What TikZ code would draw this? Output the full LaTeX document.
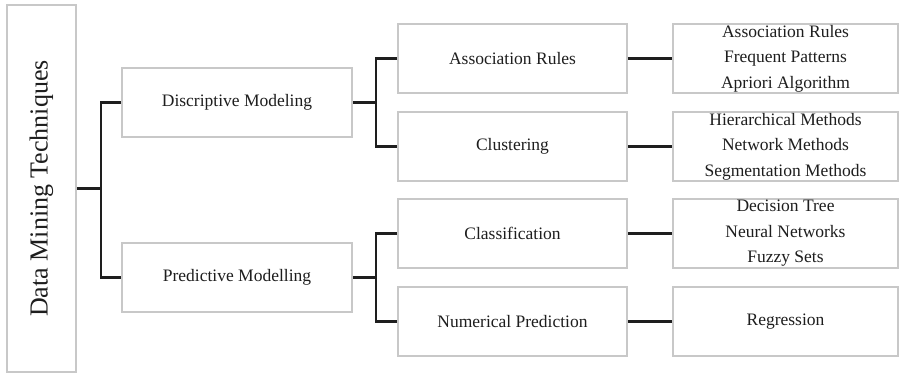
\documentclass[tikz,border=0pt]{standalone}
\usepackage{fontspec}
\setmainfont{Liberation Serif}
\usetikzlibrary{calc}
\definecolor{boxgray}{RGB}{200,200,200}
\definecolor{ink}{RGB}{30,30,30}
\begin{document}
\begin{tikzpicture}[x=1pt,y=-1pt,
  box/.style={draw=boxgray,line width=1.6pt,fill=white,inner sep=0pt,
    minimum height=69pt,text=ink,align=center,
    font=\fontsize{17.5}{25.5}\selectfont},
  lbox/.style={box,minimum width=230pt},
  mbox/.style={box,minimum width=229pt},
  rbox/.style={box,minimum width=225pt},
  conn/.style={draw=ink,line width=2.2pt}]
\useasboundingbox (0,0) rectangle (902,375);
\node[box,minimum width=69pt,minimum height=367pt] (main) at (41.5,188.5)
  {\rotatebox{90}{\fontsize{26}{30}\selectfont Data Mining Techniques}};
\node[lbox] (dm) at (237,102.5) {Discriptive Modeling};
\node[lbox] (pm) at (237,277.5) {Predictive Modelling};
\node[mbox] (ar) at (512.5,58.5) {Association Rules};
\node[mbox] (cl) at (512.5,146.5) {Clustering};
\node[mbox] (cf) at (512.5,233.5) {Classification};
\node[mbox] (np) at (512.5,321.5) {Numerical Prediction};
\node[rbox] (r1) at (785.5,58.5) {Association Rules\\Frequent Patterns\\Apriori Algorithm};
\node[rbox] (r2) at (785.5,146.5) {Hierarchical Methods\\Network Methods\\Segmentation Methods};
\node[rbox] (r3) at (785.5,233.5) {Decision Tree\\Neural Networks\\Fuzzy Sets};
\node[rbox] (r4) at (785.5,321.5) {Regression};
\coordinate (j1) at ($(main.east)+(24,0)$);
\coordinate (j2) at ($(dm.east)+(23,0)$);
\coordinate (j3) at ($(pm.east)+(23,0)$);
\draw[conn] (main.east) -- (j1);
\draw[conn] (dm.west) -| (j1) |- (pm.west);
\draw[conn] (dm.east) -- (j2);
\draw[conn] (ar.west) -| (j2) |- (cl.west);
\draw[conn] (pm.east) -- (j3);
\draw[conn] (cf.west) -| (j3) |- (np.west);
\draw[conn] (ar.east) -- (r1.west);
\draw[conn] (cl.east) -- (r2.west);
\draw[conn] (cf.east) -- (r3.west);
\draw[conn] (np.east) -- (r4.west);
\end{tikzpicture}
\end{document}
